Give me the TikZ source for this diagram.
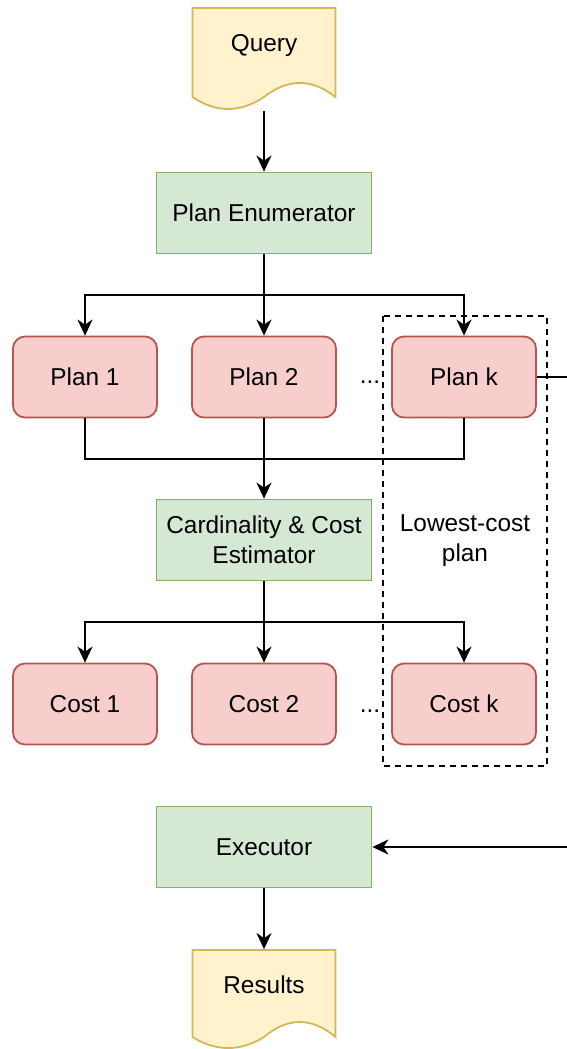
\documentclass[tikz,border=0pt]{standalone}
\usepackage{fontspec}
\setmainfont{Liberation Sans}
\usetikzlibrary{arrows.meta}
\definecolor{docfill}{HTML}{FFF2CC}
\definecolor{docline}{HTML}{D6B656}
\definecolor{grfill}{HTML}{D5E8D4}
\definecolor{grline}{HTML}{82B366}
\definecolor{rdfill}{HTML}{F8CECC}
\definecolor{rdline}{HTML}{B85450}
\begin{document}
\begin{tikzpicture}[x=0.5pt, y=-0.5pt, line width=0.9pt,
  every node/.style={font=\fontsize{12.2}{15}\selectfont},
  greenbox/.style={draw=grline, fill=grfill, minimum width=107.5pt, minimum height=40.5pt, align=center, inner sep=0pt},
  redbox/.style={draw=rdline, fill=rdfill, rounded corners=6pt, minimum width=72pt, minimum height=40.5pt, inner sep=0pt},
  docbox/.style={minimum width=71.5pt, minimum height=50pt, inner sep=0pt},
  arr/.style={-{Stealth[length=8pt,width=7.5pt,inset=2.5pt]}}]
  \useasboundingbox (0,0) rectangle (567,1049);
  % document shapes
  \draw[draw=docline, fill=docfill] (192.5,8) -- (335.5,8) -- (335.5,97)
    .. controls (311.7,78.3) and (287.8,78.3) .. (264,97)
    .. controls (240.2,113) and (216.3,113) .. (192.5,97) -- cycle;
  \draw[draw=docline, fill=docfill] (192.5,950) -- (335.5,950) -- (335.5,1037)
    .. controls (311.7,1017) and (287.8,1017) .. (264,1037)
    .. controls (240.2,1051.7) and (216.3,1051.7) .. (192.5,1037) -- cycle;
  \node[docbox] (query) at (264,58) {};
  \node (querytxt) at (264,46) {Query};
  \node[docbox] (results) at (264,1000) {};
  \node (resultstxt) at (264,985) {Results};

  \node[greenbox] (enum) at (264,213) {Plan Enumerator};
  \node[redbox] (plan1) at (85,377) {Plan 1};
  \node[redbox] (plan2) at (264,377) {Plan 2};
  \node[redbox] (plank) at (464,377) {Plan k};
  \node[anchor=base] (pdots) at (370,383) {...};
  \node[greenbox] (est) at (264,540) {Cardinality \& Cost\\Estimator};
  \node[redbox] (cost1) at (85,704) {Cost 1};
  \node[redbox] (cost2) at (264,704) {Cost 2};
  \node[redbox] (costk) at (464,704) {Cost k};
  \node[anchor=base] (cdots) at (370,712) {...};
  \node[greenbox] (exec) at (264,847) {Executor};
  \node[align=center] (lowest) at (465,541) {Lowest-cost\\plan};
  \draw[dashed, dash pattern=on 3pt off 2.5pt] (383,316) rectangle (547,766);

  \coordinate (f1) at (264,295);
  \coordinate (j1) at (264,459);
  \coordinate (f2) at (264,622);
  \coordinate (r1) at (567,377);
  \coordinate (r2) at (567,847);

  \draw[arr] (query.south) ++(0,2) -- (enum);
  \draw (enum) -- (f1);
  \draw[arr] (f1) -| (plan1);
  \draw[arr] (f1) -- (plan2);
  \draw[arr] (f1) -| (plank);
  \draw (plan1) |- (j1);
  \draw (plank) |- (j1);
  \draw (plan2) -- (j1);
  \draw[arr] (j1) -- (est);
  \draw (est) -- (f2);
  \draw[arr] (f2) -| (cost1);
  \draw[arr] (f2) -- (cost2);
  \draw[arr] (f2) -| (costk);
  \draw (plank) -- (r1);
  \draw[arr] (r2) -- (exec);
  \draw[arr] (exec) -- (results.north);
\end{tikzpicture}
\end{document}
